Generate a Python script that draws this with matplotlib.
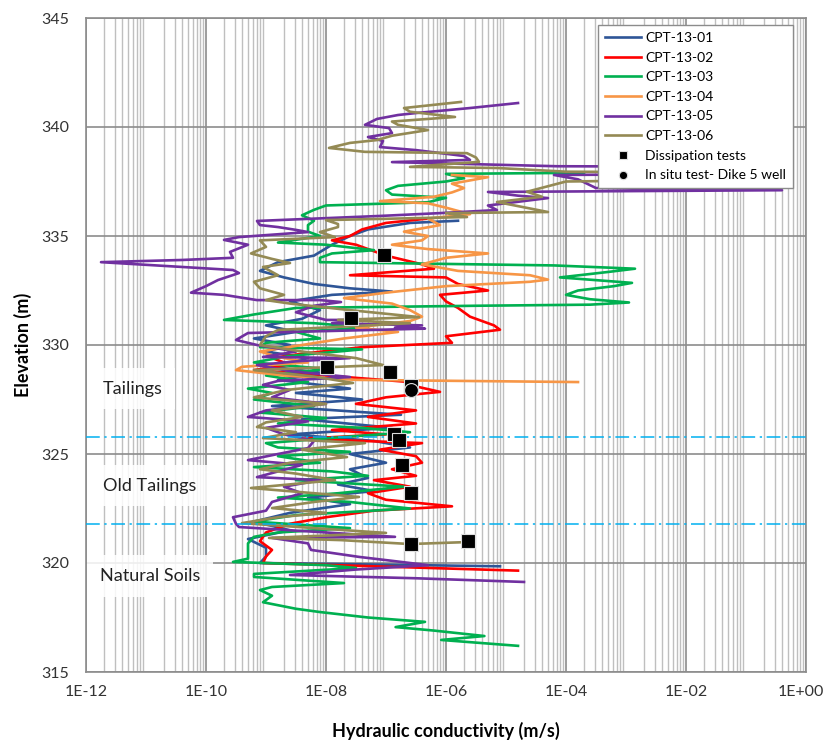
import numpy as np
import matplotlib
matplotlib.use("Agg")
import matplotlib.pyplot as plt
import matplotlib.transforms as mtransforms
from matplotlib.ticker import LogLocator, NullFormatter

plt.rcParams['font.family'] = ['Lato', 'DejaVu Sans']

# ---- data: elevation (m) and log10 of hydraulic conductivity (m/s) ----
cpt01_elev = [335.7, 335.6, 335.3, 335.0, 334.6, 334.1, 333.8, 333.4, 333.1, 332.8, 332.6, 332.45,
              332.3, 332.0, 331.6, 331.2, 330.9, 330.6, 330.3, 330.0, 329.7, 329.4, 329.0, 328.7,
              328.4, 328.0, 327.8, 327.5, 327.2, 326.8, 326.6, 326.2, 325.9, 325.6, 325.3, 325.0,
              324.6, 324.3, 323.9, 323.6, 323.3, 323.0, 322.7, 322.3, 321.9, 321.5, 321.1, 320.7,
              320.3, 320.0, 319.85]
cpt01_logk = [-5.8, -6.6, -7.3, -7.6, -7.9, -8.2, -8.8, -9.1, -8.7, -8.2, -7.6, -6.9,
              -7.9, -8.6, -8.1, -8.4, -9.0, -8.5, -9.2, -8.6, -9.0, -8.3, -8.9, -8.0,
              -8.8, -7.6, -8.5, -7.4, -8.9, -6.75, -8.4, -6.9, -8.6, -7.2, -6.6, -7.6,
              -7.0, -7.6, -7.3, -7.8, -7.2, -8.3, -7.6, -8.6, -9.2, -8.6, -9.3, -9.0,
              -9.0, -9.1, -5.1]

cpt02_elev = [335.8, 335.6, 335.3, 335.0, 334.8, 334.6, 334.3, 334.1, 333.9, 333.7, 333.5, 333.2,
              333.1, 332.8, 332.5, 332.3, 332.0, 331.7, 331.3, 330.9, 330.7, 330.4, 330.1, 329.9,
              329.6, 329.4, 329.1, 328.85, 328.6, 328.3, 328.1, 327.85, 327.6, 327.3, 327.0, 326.7,
              326.4, 326.1, 325.9, 325.7, 325.5, 325.2, 324.9, 324.6, 324.3, 324.0, 323.8, 323.5,
              323.2, 322.9, 322.6, 322.4, 322.1, 321.8, 321.4, 321.0, 320.6, 320.3, 320.0, 319.65]
cpt02_logk = [-6.3, -7.0, -7.4, -7.6, -7.9, -7.5, -7.2, -7.0, -6.7, -6.4, -6.2, -7.6,
              -6.0, -5.8, -5.3, -6.1, -6.0, -5.8, -5.6, -5.2, -5.1, -6.0, -5.9, -7.4,
              -8.4, -8.9, -8.6, -9.2, -8.0, -6.6, -6.5, -6.1, -7.0, -7.5, -6.5, -7.3,
              -6.5, -7.9, -7.0, -8.4, -6.4, -7.1, -6.5, -6.4, -6.9, -6.5, -7.2, -6.6,
              -7.3, -7.0, -5.9, -7.2, -8.0, -8.6, -9.0, -9.1, -8.9, -9.0, -9.05, -4.8]

cpt03_elev = [337.9, 337.85, 337.65, 337.5, 337.3, 337.1, 336.9, 336.75, 336.55, 336.4, 336.2, 335.95,
              335.7, 335.5, 335.2, 335.0, 334.7, 334.6, 334.35, 334.2, 334.0, 333.8, 333.65, 333.5,
              333.35, 333.1, 332.85, 332.7, 332.5, 332.3, 332.1, 331.95, 331.85, 331.8, 331.7, 331.4,
              331.15, 331.0, 330.8, 330.6, 330.3, 330.1, 329.9, 329.8, 329.5, 329.2, 328.9, 328.6,
              328.3, 328.0, 327.8, 327.5, 327.2, 326.9, 326.65, 326.4, 326.2, 326.0, 325.8, 325.5,
              325.3, 325.1, 324.9, 324.6, 324.4, 324.2, 324.0, 323.8, 323.5, 323.2, 323.0, 322.8,
              322.5, 322.2, 321.9, 321.6, 321.4, 321.2, 320.9, 320.5, 320.2, 320.05, 319.9, 319.77,
              319.5, 319.36, 319.08, 318.9, 318.76, 318.5, 318.2, 317.9, 317.75, 317.5, 317.3, 317.06,
              316.9, 316.65, 316.47, 316.2]
cpt03_logk = [-3.7, -6.0, -5.7, -6.0, -6.8, -7.0, -6.9, -6.0, -6.3, -8.0, -8.2, -8.4,
              -8.2, -8.3, -8.3, -8.1, -8.8, -8.0, -7.2, -7.9, -8.1, -8.1, -4.2, -2.85,
              -3.3, -4.1, -2.9, -3.2, -3.8, -4.0, -3.6, -2.95, -3.6, -5.5, -8.5, -9.2,
              -9.7, -8.2, -7.3, -8.5, -8.1, -9.0, -9.1, -7.4, -8.6, -9.2, -8.0, -9.0,
              -8.3, -9.3, -8.9, -9.2, -8.2, -9.1, -8.0, -8.8, -7.4, -6.6, -7.6, -9.0,
              -8.8, -7.6, -8.8, -8.1, -9.2, -7.9, -7.3, -8.5, -6.7, -7.8, -8.8, -7.6,
              -6.6, -8.5, -9.2, -7.6, -8.8, -9.2, -9.3, -9.3, -9.3, -9.55, -8.0, -7.5,
              -9.2, -9.2, -7.7, -8.9, -9.1, -8.9, -9.05, -8.5, -8.1, -7.3, -6.35, -6.84,
              -6.2, -5.36, -6.08, -4.8]

cpt04_elev = [337.8, 337.7, 337.55, 337.4, 337.2, 337.0, 336.8, 336.6, 336.5, 336.3, 336.0, 335.8,
              335.5, 335.2, 335.0, 334.8, 334.6, 334.4, 334.2, 334.0, 333.7, 333.4, 333.2, 333.0,
              332.9, 332.7, 332.4, 332.15, 331.9, 331.6, 331.3, 331.1, 330.8, 330.6, 330.3, 330.0,
              329.7, 329.45, 329.2, 329.0, 328.85, 328.6, 328.4, 328.3]
cpt04_logk = [-5.9, -5.3, -5.6, -5.9, -5.7, -5.9, -6.2, -7.1, -6.3, -6.0, -5.6, -6.3,
              -6.1, -6.7, -6.3, -6.4, -6.9, -6.3, -5.3, -6.0, -6.4, -5.8, -4.6, -4.3,
              -4.6, -6.0, -7.0, -7.7, -6.9, -6.6, -6.4, -6.6, -7.5, -6.8, -7.7, -8.4,
              -9.1, -8.8, -8.3, -9.4, -9.5, -8.7, -7.5, -3.8]

cpt05_elev = [341.1, 340.87, 340.64, 340.55, 340.37, 340.1, 339.95, 339.72, 339.54, 339.36, 339.08, 338.94,
              338.67, 338.49, 338.39, 338.3, 338.2, 338.17, 337.85, 337.8, 337.6, 337.2, 337.1, 337.02,
              336.85, 336.74, 336.4, 336.19, 336.05, 335.92, 335.69, 335.5, 335.41, 335.28, 335.18, 334.95,
              334.82, 334.6, 334.27, 334.0, 333.9, 333.8, 333.58, 333.44, 333.3, 332.98, 332.7, 332.4,
              332.3, 332.06, 332.06, 331.97, 331.8, 331.5, 331.15, 331.15, 331.0, 330.9, 330.8, 330.75,
              330.55, 330.23, 330.0, 329.7, 329.45, 329.4, 329.25, 329.08, 328.8, 328.53, 328.35, 328.17,
              327.94, 327.6, 327.3, 327.0, 326.7, 326.5, 326.2, 325.9, 325.6, 325.27, 325.0, 324.72,
              324.5, 324.2, 323.94, 323.8, 323.5, 323.2, 322.8, 322.4, 322.1, 321.8, 321.65, 321.4,
              321.2, 321.15, 320.9, 320.6, 320.28, 320.1, 319.9, 319.7, 319.45, 319.3, 319.13]
cpt05_logk = [-4.8, -5.6, -6.5, -6.8, -7.15, -7.35, -6.95, -6.9, -7.3, -7.05, -7.1, -6.5,
              -5.7, -5.6, -6.9, -5.6, -4.15, -0.3, -0.6, -4.2, -3.8, -3.5, -0.4, -5.3,
              -4.8, -4.3, -5.3, -5.15, -6.1, -7.1, -9.15, -9.1, -8.8, -8.5, -8.3, -9.45,
              -9.7, -9.3, -9.6, -9.55, -10.4, -11.75, -10.4, -9.55, -9.45, -9.8, -10.0, -10.25,
              -9.7, -9.15, -8.1, -7.75, -8.2, -8.5, -8.0, -7.35, -7.9, -6.4, -6.85, -6.35,
              -9.3, -9.5, -9.15, -8.5, -9.05, -7.6, -8.5, -9.15, -8.6, -7.6, -8.8, -9.05,
              -8.6, -8.9, -8.0, -9.0, -9.3, -8.3, -9.0, -8.7, -8.2, -8.3, -8.8, -9.3,
              -8.4, -8.8, -9.15, -8.1, -8.7, -8.4, -8.9, -9.0, -9.55, -9.5, -9.45, -8.0,
              -6.85, -8.9, -8.3, -8.25, -7.45, -6.9, -6.3, -7.5, -8.6, -6.5, -4.7]

cpt06_elev = [341.15, 340.87, 340.7, 340.46, 340.25, 340.1, 339.86, 339.6, 339.4, 339.27, 339.04, 338.86,
              338.8, 338.6, 338.4, 338.17, 338.12, 337.95, 337.9, 337.6, 337.5, 337.03, 336.8, 336.56,
              336.1, 336.05, 335.87, 335.73, 335.55, 335.41, 335.18, 334.95, 334.8, 334.5, 334.2, 333.95,
              333.76, 333.58, 333.2, 332.9, 332.6, 332.3, 332.06, 331.9, 331.6, 331.28, 331.15, 331.0,
              330.69, 330.4, 330.0, 329.7, 329.4, 329.08, 328.85, 328.55, 328.26, 327.94, 327.6, 327.3,
              327.0, 326.7, 326.45, 326.24, 326.0, 325.73, 325.5, 325.2, 324.86, 324.6, 324.3, 324.1,
              323.8, 323.44, 323.03, 322.8, 322.52, 322.3, 322.1, 321.83, 321.6, 321.38, 321.15, 321.05,
              320.87, 320.96]
cpt06_logk = [-5.75, -6.7, -6.6, -5.85, -6.9, -6.8, -6.3, -6.9, -7.15, -7.6, -7.95, -7.35,
              -5.65, -5.5, -5.45, -6.6, -5.15, -4.0, -0.3, -0.8, -4.0, -4.65, -4.4, -5.15,
              -4.3, -6.0, -5.65, -8.0, -7.8, -7.8, -8.1, -7.85, -9.1, -9.0, -9.25, -8.9,
              -8.6, -9.05, -8.8, -9.2, -9.1, -8.7, -9.0, -8.6, -7.6, -6.45, -7.8, -6.6,
              -8.8, -9.0, -9.1, -8.4, -7.5, -7.05, -9.2, -8.2, -7.55, -8.65, -9.2, -8.0,
              -8.9, -8.4, -9.0, -9.15, -8.5, -9.05, -7.35, -8.4, -7.65, -8.6, -9.1, -8.5,
              -7.85, -9.25, -7.45, -8.2, -8.9, -8.0, -8.8, -9.4, -8.2, -7.0, -8.95, -7.75,
              -6.6, -5.65]

diss_elev = [334.13, 331.24, 328.99, 328.76, 328.12, 325.92, 325.64, 324.5, 323.2, 320.87, 321.0]
diss_logk = [-7.04, -7.59, -7.98, -6.93, -6.58, -6.86, -6.78, -6.73, -6.58, -6.58, -5.64]
insitu_elev = [327.94]
insitu_logk = [-6.58]

series_names = ['CPT-13-01', 'CPT-13-02', 'CPT-13-03', 'CPT-13-04', 'CPT-13-05', 'CPT-13-06']
series_colors = ['#2E5597', '#FF0000', '#00B050', '#F79646', '#7030A0', '#948A54']
series_elev = [cpt01_elev, cpt02_elev, cpt03_elev, cpt04_elev, cpt05_elev, cpt06_elev]
series_logk = [cpt01_logk, cpt02_logk, cpt03_logk, cpt04_logk, cpt05_logk, cpt06_logk]

zone_bounds = [325.8, 321.8]
zone_labels = ['Tailings', 'Old Tailings', 'Natural Soils']
zone_label_elev = [328.0, 323.55, 319.4]
zone_label_x = [1.9e-12, 1.9e-12, 1.7e-12]

x_ticks_exp = list(range(-12, 1, 2))
x_tick_labels = ['1E-12', '1E-10', '1E-08', '1E-06', '1E-04', '1E-02', '1E+00']

# ---- figure ----
W, H = 827, 747
fig = plt.figure(figsize=(W / 100, H / 100), dpi=100)
ax = fig.add_axes([86 / W, 75 / H, (806 - 86) / W, (672 - 18) / H])
ax.set_xscale('log')
ax.set_xlim(1e-12, 1e0)
ax.set_ylim(315, 345)

# grid
ax.xaxis.set_minor_locator(LogLocator(base=10, subs=np.arange(2, 10), numticks=100))
ax.xaxis.set_minor_formatter(NullFormatter())
ax.grid(True, which='minor', axis='x', color='#BFBFBF', lw=1.0, zorder=0)
ax.grid(True, which='major', axis='both', color='#8C8C8C', lw=1.2, zorder=0)
ax.set_axisbelow(True)

for name, col, el, lk in zip(series_names, series_colors, series_elev, series_logk):
    ax.plot(10.0 ** np.array(lk), el, color=col, lw=1.9, label=name, zorder=3,
            solid_joinstyle='round')

ax.plot(10.0 ** np.array(diss_logk), diss_elev, ls='none', marker='s', ms=10,
        mfc='black', mec='#DDDDDD', mew=0.8, label='Dissipation tests', zorder=5)
ax.plot(10.0 ** np.array(insitu_logk), insitu_elev, ls='none', marker='o', ms=10,
        mfc='black', mec='#DDDDDD', mew=0.8, label='In situ test- Dike 5 well', zorder=5)

for zb in zone_bounds:
    ax.axhline(zb, color='#00B0F0', lw=1.1, ls=(0, (9, 3, 1.5, 3)), zorder=4)

for lab, ze, zx in zip(zone_labels, zone_label_elev, zone_label_x):
    ax.text(zx, ze, lab, fontsize=13, color='#222222', va='center', ha='left', zorder=6,
            bbox=dict(boxstyle='square,pad=0.7', fc='white', ec='none', alpha=0.85))

ax.set_xticks([10.0 ** e for e in x_ticks_exp])
ax.set_xticklabels(x_tick_labels)
ax.set_yticks(np.arange(315, 346, 5))
ax.tick_params(axis='both', which='both', length=0, labelsize=11.5, colors='#333333')
ax.tick_params(axis='x', pad=9)
ax.tick_params(axis='y', pad=12)
for s in ax.spines.values():
    s.set_color('#8C8C8C')
    s.set_linewidth(1.2)

# keep the last x tick label inside the canvas
last_lab = ax.get_xticklabels()[-1]
last_lab.set_transform(last_lab.get_transform() +
                       mtransforms.ScaledTranslation(-5 / 100, 0, fig.dpi_scale_trans))

ax.set_xlabel('Hydraulic conductivity (m/s)', fontsize=13, fontweight='bold', labelpad=17)
ax.set_ylabel('Elevation (m)', fontsize=13, fontweight='bold', labelpad=7)

leg = ax.legend(loc='upper right', bbox_to_anchor=(793 / W, 1 - 25 / H), bbox_transform=fig.transFigure,
                borderaxespad=0, fontsize=10, frameon=True, fancybox=False, edgecolor='#8C8C8C',
                framealpha=1, handlelength=2.6, handletextpad=0.3, markerscale=0.6,
                borderpad=0.5, labelspacing=0.55)
leg.get_frame().set_linewidth(1.0)
leg.set_zorder(10)

fig.savefig('out.png', dpi=100)
